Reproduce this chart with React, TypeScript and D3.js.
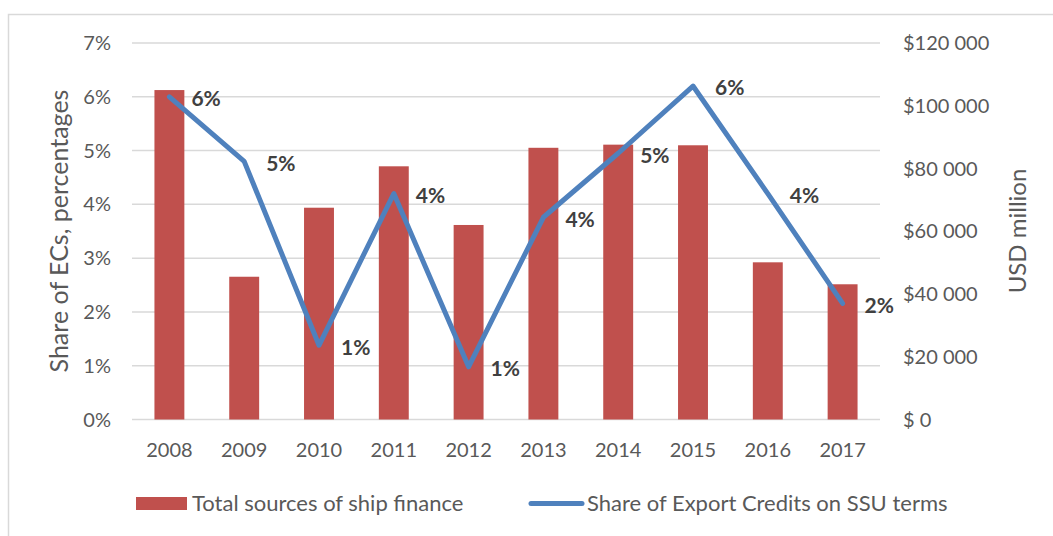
import * as d3 from "d3";
import React, { useEffect, useRef } from "react";

// chart data
const years = ["2008", "2009", "2010", "2011", "2012", "2013", "2014", "2015", "2016", "2017"];
const totalFinance = [105000, 45500, 67500, 80700, 62000, 86600, 87600, 87400, 50100, 43100];
const ecShare = [6.0, 4.8, 1.38, 4.2, 0.98, 3.76, 4.95, 6.2, 4.2, 2.16];
const leftTicks = [0, 1, 2, 3, 4, 5, 6, 7];
const rightTicks = [0, 20000, 40000, 60000, 80000, 100000, 120000];
const rightTickLabels = ["$ 0", "$20 000", "$40 000", "$60 000", "$80 000", "$100 000", "$120 000"];

const colorBar = "#c0504d";
const colorLine = "#4f81bd";
const colorGrid = "#d9d9d9";
const colorText = "#595959";
const colorLabel = "#404040";
const font = "Lato, 'Open Sans', sans-serif";

const App = () => {
  const d3Container = useRef(null);

  useEffect(() => {
    const width = 1053;
    const height = 536;
    const plot = { left: 132, right: 880, top: 43, bottom: 419.5 };

    d3.select(d3Container.current).selectAll("*").remove();

    const svg = d3
      .select(d3Container.current)
      .append("svg")
      .attr("width", width)
      .attr("height", height)
      .style("position", "absolute")
      .style("left", 0)
      .style("top", 0)
      .style("font-family", font);

    svg.append("rect").attr("width", width).attr("height", height).attr("fill", "white");

    // chart border
    svg
      .append("rect")
      .attr("x", 8.5)
      .attr("y", 14.5)
      .attr("width", width + 20)
      .attr("height", height + 20)
      .attr("fill", "none")
      .attr("stroke", colorGrid)
      .attr("stroke-width", 1.5);

    const x = d3
      .scaleBand()
      .domain(years)
      .range([plot.left, plot.right])
      .paddingInner(0.6)
      .paddingOuter(0.3);

    const yLeft = d3.scaleLinear().domain([0, 7]).range([plot.bottom, plot.top]);
    const yRight = d3.scaleLinear().domain([0, 120000]).range([plot.bottom, plot.top]);

    // grid lines
    svg
      .append("g")
      .selectAll("line")
      .data(leftTicks)
      .enter()
      .append("line")
      .attr("x1", plot.left)
      .attr("x2", plot.right)
      .attr("y1", (d) => yLeft(d))
      .attr("y2", (d) => yLeft(d))
      .attr("stroke", colorGrid)
      .attr("stroke-width", 1.5);

    // left ticks
    svg
      .append("g")
      .selectAll("text")
      .data(leftTicks)
      .enter()
      .append("text")
      .attr("x", 111)
      .attr("y", (d) => yLeft(d))
      .attr("dy", "0.35em")
      .attr("text-anchor", "end")
      .attr("font-size", 20)
      .attr("fill", colorText)
      .text((d) => `${d}%`);

    // right ticks
    svg
      .append("g")
      .selectAll("text")
      .data(rightTicks)
      .enter()
      .append("text")
      .attr("x", 903)
      .attr("y", (d) => yRight(d))
      .attr("dy", "0.35em")
      .attr("font-size", 20)
      .attr("fill", colorText)
      .text((d, i) => rightTickLabels[i]);

    // x labels
    svg
      .append("g")
      .selectAll("text")
      .data(years)
      .enter()
      .append("text")
      .attr("x", (d) => x(d) + x.bandwidth() / 2)
      .attr("y", 450)
      .attr("dy", "0.35em")
      .attr("text-anchor", "middle")
      .attr("font-size", 20)
      .attr("fill", colorText)
      .text((d) => d);

    // axis titles
    svg
      .append("text")
      .attr("transform", "translate(59, 231) rotate(-90)")
      .attr("dy", "0.35em")
      .attr("text-anchor", "middle")
      .attr("font-size", 25)
      .attr("fill", colorText)
      .text("Share of ECs, percentages");

    svg
      .append("text")
      .attr("transform", "translate(1018, 231) rotate(-90)")
      .attr("dy", "0.35em")
      .attr("text-anchor", "middle")
      .attr("font-size", 24)
      .attr("fill", colorText)
      .text("USD million");

    // bars
    svg
      .append("g")
      .selectAll("rect")
      .data(totalFinance)
      .enter()
      .append("rect")
      .attr("x", (d, i) => x(years[i]))
      .attr("y", (d) => yRight(d))
      .attr("width", x.bandwidth())
      .attr("height", (d) => plot.bottom - yRight(d))
      .attr("fill", colorBar);

    // line
    const line = d3
      .line()
      .x((d, i) => x(years[i]) + x.bandwidth() / 2)
      .y((d) => yLeft(d));

    svg
      .append("path")
      .datum(ecShare)
      .attr("fill", "none")
      .attr("stroke", colorLine)
      .attr("stroke-width", 5)
      .attr("stroke-linejoin", "round")
      .attr("stroke-linecap", "round")
      .attr("d", line);

    // data labels
    svg
      .append("g")
      .selectAll("text")
      .data(ecShare)
      .enter()
      .append("text")
      .attr("x", (d, i) => x(years[i]) + x.bandwidth() / 2 + 22)
      .attr("y", (d) => yLeft(d) + 2)
      .attr("dy", "0.35em")
      .attr("font-size", 21)
      .attr("font-weight", "bold")
      .attr("fill", colorLabel)
      .text((d) => `${Math.round(d)}%`);

    // legend
    const legend = svg.append("g");
    legend
      .append("rect")
      .attr("x", 136)
      .attr("y", 497)
      .attr("width", 51)
      .attr("height", 13)
      .attr("fill", colorBar);
    legend
      .append("text")
      .attr("x", 192)
      .attr("y", 503)
      .attr("dy", "0.35em")
      .attr("font-size", 22)
      .attr("fill", colorText)
      .text("Total sources of ship finance");
    legend
      .append("line")
      .attr("x1", 531)
      .attr("x2", 582)
      .attr("y1", 503.5)
      .attr("y2", 503.5)
      .attr("stroke", colorLine)
      .attr("stroke-width", 5)
      .attr("stroke-linecap", "round");
    legend
      .append("text")
      .attr("x", 587)
      .attr("y", 503)
      .attr("dy", "0.35em")
      .attr("font-size", 22)
      .attr("fill", colorText)
      .text("Share of Export Credits on SSU terms");
  }, []);

  return <div ref={d3Container} />;
};

export default App;
